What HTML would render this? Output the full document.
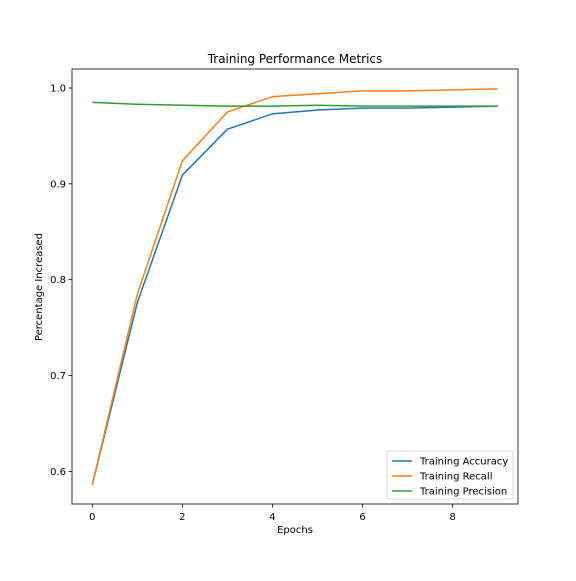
<!DOCTYPE html>
<html><head><meta charset="utf-8"><style>
body{margin:0;background:#fff;}
svg text{font-family:"DejaVu Sans","Liberation Sans",sans-serif;fill:#000;}
</style></head><body>
<svg id="chart" width="576" height="576" xmlns="http://www.w3.org/2000/svg">
<rect width="576" height="576" fill="#fff"/>
<text x="295" y="63" font-size="12" text-anchor="middle">Training Performance Metrics</text>
<g id="plot"></g>
<text x="295" y="533" font-size="10" text-anchor="middle">Epochs</text>
<text x="42" y="287" font-size="10" text-anchor="middle" transform="rotate(-90 42 287)">Percentage Increased</text>
</svg>
<script>
const epochs=[0,1,2,3,4,5,6,7,8,9];
const accuracy=[0.586,0.776,0.909,0.957,0.973,0.977,0.979,0.979,0.980,0.981];
const recall=[0.586,0.785,0.924,0.975,0.991,0.994,0.997,0.997,0.998,0.999];
const precision=[0.985,0.983,0.982,0.981,0.981,0.982,0.981,0.981,0.981,0.981];
const xTicks=[0,2,4,6,8];
const yTicks=[0.6,0.7,0.8,0.9,1.0];
const seriesNames=["Training Accuracy","Training Recall","Training Precision"];

const L=72,R=518,T=69,B=504;
const xMin=-0.45,xMax=9.45,yMin=0.5659,yMax=1.0198;
const X=v=>L+(v-xMin)/(xMax-xMin)*(R-L);
const Y=v=>B-(v-yMin)/(yMax-yMin)*(B-T);
const NS="http://www.w3.org/2000/svg";
const g=document.getElementById('plot');
function mk(t,a){const e=document.createElementNS(NS,t);for(const k in a)e.setAttribute(k,a[k]);g.appendChild(e);return e;}
const colors=["#1f77b4","#ff7f0e","#2ca02c"];
[accuracy,recall,precision].forEach((s,i)=>{
  const p=mk('polyline',{points:s.map((v,j)=>X(epochs[j])+','+Y(v)).join(' '),fill:'none',stroke:colors[i],'stroke-width':1.5});
  
  
});
const frame=mk('rect',{x:L,y:T,width:R-L,height:B-T,fill:'none',stroke:'#000','stroke-width':0.8});


xTicks.forEach(t=>{
  mk('line',{x1:X(t),x2:X(t),y1:B,y2:B+3.5,stroke:'#000','stroke-width':0.8});
  const tx=mk('text',{x:X(t),y:B+16,'font-size':10,'text-anchor':'middle'});tx.textContent=t;
  
  
});
yTicks.forEach(t=>{
  mk('line',{x1:L-3.5,x2:L,y1:Y(t),y2:Y(t),stroke:'#000','stroke-width':0.8});
  const tx=mk('text',{x:L-6,y:Y(t)+3.5,'font-size':10,'text-anchor':'end'});tx.textContent=t.toFixed(1);
  
  
});
const lg=mk('rect',{x:387,y:451,width:126,height:48,rx:2,fill:'#fff','fill-opacity':0.8,stroke:'#ccc','stroke-width':0.8});


seriesNames.forEach((n,i)=>{
  const y=461+i*15;
  mk('line',{x1:392,x2:412,y1:y,y2:y,stroke:colors[i],'stroke-width':1.5});
  const tx=mk('text',{x:420,y:y+3.5,'font-size':10});tx.textContent=n;
  
  
});
</script>
</body></html>
